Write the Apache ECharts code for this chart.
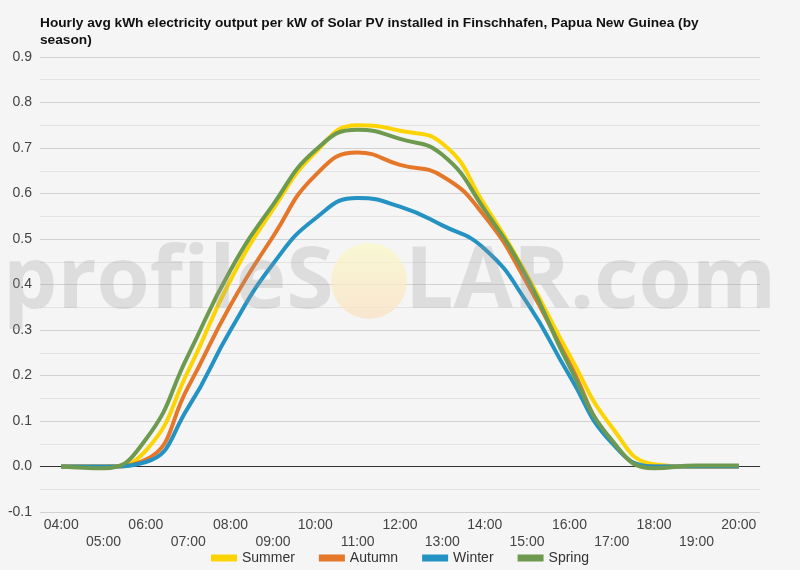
<!DOCTYPE html>
<html>
<head>
<meta charset="utf-8">
<script src="https://cdn.jsdelivr.net/npm/echarts@6/dist/echarts.min.js"></script>
<style>
  html, body { margin: 0; padding: 0; background: #f5f5f5; }
  #main { width: 800px; height: 570px; }
</style>
</head>
<body>
<div id="main"></div>
<script type="text/javascript">
	// data
	var hours = ['04:00', '05:00', '06:00', '07:00', '08:00', '09:00', '10:00', '11:00', '12:00',
		'13:00', '14:00', '15:00', '16:00', '17:00', '18:00', '19:00', '20:00'];
	var summer = [0.0, 0.0, 0.035, 0.21, 0.41, 0.565, 0.69, 0.75, 0.738, 0.71, 0.575, 0.42, 0.245, 0.087, 0.005, 0.0, 0.0];
	var autumn = [0.0, 0.0, 0.015, 0.175, 0.355, 0.505, 0.64, 0.69, 0.663, 0.638, 0.55, 0.403, 0.227, 0.055, 0.0, 0.0, 0.0];
	var winter = [0.0, 0.0, 0.01, 0.13, 0.3, 0.445, 0.545, 0.59, 0.571, 0.53, 0.478, 0.36, 0.2, 0.052, 0.0, 0.0, 0.0];
	var spring = [0.0, -0.004, 0.06, 0.245, 0.432, 0.575, 0.695, 0.74, 0.72, 0.685, 0.564, 0.415, 0.22, 0.058, -0.004, 0.002, 0.002];

	var chart = echarts.init(document.getElementById('main'));

	function line(name, data, color) {
		return {
			name: name,
			type: 'line',
			data: data,
			smooth: true,
			symbol: 'none',
			lineStyle: { width: 4, color: color },
			itemStyle: { color: color },
			z: 3
		};
	}

	var series = [
		line('Summer', summer, '#fcd403'),
		line('Autumn', autumn, '#e5772a'),
		line('Winter', winter, '#2492c2'),
		line('Spring', spring, '#6e9a4f')
	];
	// black zero line
	series[0].markLine = {
		silent: true,
		symbol: 'none',
		label: { show: false },
		lineStyle: { color: '#333', width: 1, type: 'solid' },
		data: [{ yAxis: 0 }],
		z: 2
	};

	var wmFont = 'bold 86px "Open Sans", sans-serif';
	var wmFill = 'rgba(150,150,150,0.25)';

	var option = {
		backgroundColor: '#f5f5f5',
		animation: false,
		title: {
			text: 'Hourly avg kWh electricity output per kW of Solar PV installed in Finschhafen, Papua New Guinea (by\nseason)',
			left: 35,
			top: 10,
			textStyle: {
				fontFamily: 'Liberation Sans, Arial, sans-serif',
				fontSize: 13.7,
				fontWeight: 'bold',
				color: '#111',
				lineHeight: 17
			}
		},
		graphic: [
			{
				type: 'circle',
				shape: { cx: 369, cy: 281, r: 38 },
				z: 10,
				silent: true,
				style: {
					fill: {
						type: 'linear', x: 0, y: 0, x2: 0, y2: 1,
						colorStops: [
							{ offset: 0, color: 'rgba(250,248,200,0.75)' },
							{ offset: 1, color: 'rgba(250,225,195,0.75)' }
						]
					}
				}
			},
			{
				type: 'text',
				left: 3,
				top: 240,
				z: 10,
				silent: true,
				style: { text: 'profileS', font: wmFont, fill: wmFill }
			},
			{
				type: 'text',
				left: 405,
				top: 240,
				z: 10,
				silent: true,
				style: { text: 'LAR.com', font: wmFont, fill: wmFill }
			}
		],
		legend: {
			top: 546,
			left: 'center',
			itemWidth: 26,
			itemHeight: 7,
			itemGap: 24,
			icon: 'rect',
			textStyle: { fontSize: 14, color: '#333', fontFamily: 'Liberation Sans, Arial, sans-serif' },
			data: ['Summer', 'Autumn', 'Winter', 'Spring']
		},
		grid: { left: 40, right: 40, top: 57, bottom: 58 },
		xAxis: {
			type: 'category',
			data: hours,
			boundaryGap: true,
			axisLine: { show: true, lineStyle: { color: '#cccccc' } },
			axisTick: { show: false },
			axisLabel: {
				interval: 0,
				margin: 5,
				fontSize: 14,
				lineHeight: 17,
				color: '#444',
				fontFamily: 'Liberation Sans, Arial, sans-serif',
				formatter: function (v, i) { return i % 2 ? '\n' + v : v; }
			}
		},
		yAxis: {
			type: 'value',
			min: -0.1,
			max: 0.9,
			interval: 0.1,
			axisLine: { show: false },
			axisTick: { show: false },
			axisLabel: {
				margin: 8,
				fontSize: 14,
				color: '#444',
				fontFamily: 'Liberation Sans, Arial, sans-serif',
				formatter: function (v) { return v.toFixed(1); }
			},
			splitLine: { lineStyle: { color: '#d2d2d2' } },
			minorTick: { show: false, splitNumber: 2 },
			minorSplitLine: { show: true, lineStyle: { color: '#e2e2e2' } }
		},
		series: series
	};
	chart.setOption(option);
</script>
</body>
</html>
